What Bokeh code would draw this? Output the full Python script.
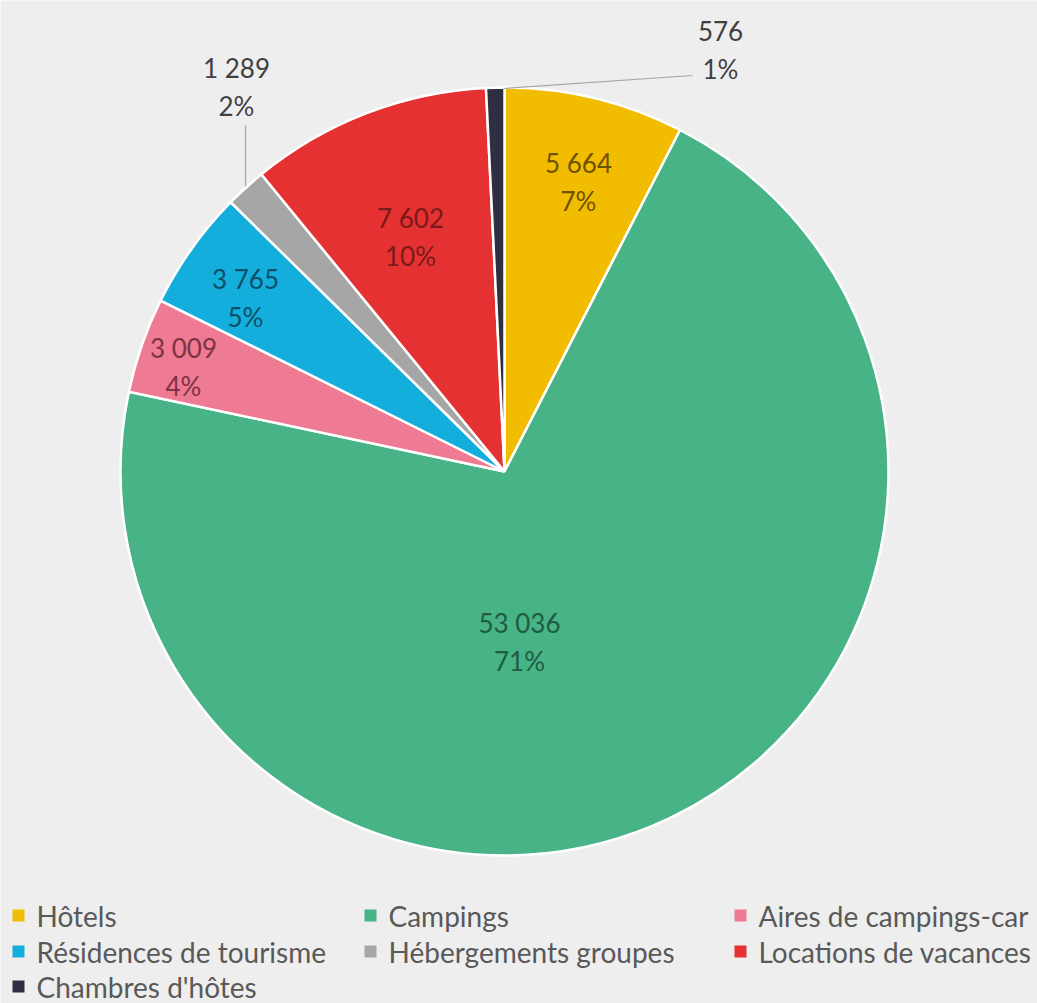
import numpy as np
from bokeh.plotting import figure
from bokeh.models import Range1d, ColumnDataSource
from bokeh.core.properties import value
from bokeh.embed import file_html
from bokeh.resources import INLINE

# ---- data ----
categories = ["Hôtels", "Campings", "Aires de campings-car", "Résidences de tourisme",
              "Hébergements groupes", "Locations de vacances", "Chambres d'hôtes"]
counts = [5664, 53036, 3009, 3765, 1289, 7602, 576]
pct_labels = ["7%", "71%", "4%", "5%", "2%", "10%", "1%"]
colors = ["#f2bd00", "#48b387", "#ef7a93", "#14aedd", "#a6a6a6", "#e53131", "#2e2f40"]
label_colors = ["#6e5200", "#1d5c40", "#7d3344", "#0b4f68", "#404040", "#7a1a1a", "#404040"]

# ---- layout (pixel coordinates of the page; y converted) ----
W, H = 1037, 1003
def Y(py):
    return H - py

cx, cy, R = 504, Y(471), 384
FONT = "Lato"
FS = "26px"
LEG_FS = "28px"

p = figure(width=W, height=H, output_backend="svg", toolbar_location=None,
           x_range=Range1d(0, W), y_range=Range1d(0, H),
           min_border=0, background_fill_color="#eeeeee", border_fill_color="#eeeeee")
p.axis.visible = False
p.grid.visible = False
p.outline_line_color = None

vals = np.array(counts, dtype=float)
total = vals.sum()
cum = np.concatenate([[0], np.cumsum(vals)])
start = np.pi / 2 - 2 * np.pi * cum[:-1] / total
end = np.pi / 2 - 2 * np.pi * cum[1:] / total
fmt = [f"{c:,}".replace(",", " ") for c in counts]

src = ColumnDataSource(dict(start=start, end=end, color=colors))
p.wedge(x=cx, y=cy, radius=R, start_angle="start", end_angle="end", direction="clock",
        fill_color="color", line_color="white", line_width=2.5, source=src)

# label anchor positions (pixel) for each slice: centre of the value line
label_pos = [(578, 162), (519, 622), (183, 347), (245, 278), (236, 67), (410, 217), (720, 30)]
line_gap = 38
lx = [q[0] for q in label_pos]
ly1 = [Y(q[1]) for q in label_pos]
ly2 = [Y(q[1] + line_gap) for q in label_pos]
lsrc = ColumnDataSource(dict(x=lx, y1=ly1, y2=ly2, t1=fmt, t2=pct_labels, c=label_colors))
p.text(x="x", y="y1", text="t1", text_color="c", text_font=value(FONT), text_font_size=FS,
       text_align="center", text_baseline="middle", source=lsrc)
p.text(x="x", y="y2", text="t2", text_color="c", text_font=value(FONT), text_font_size=FS,
       text_align="center", text_baseline="middle", source=lsrc)

# leader lines for outside labels
p.line(x=[245, 245], y=[Y(125), Y(186)], line_color="#a6a6a6", line_width=1.2)
p.line(x=[503, 692], y=[Y(88), Y(75)], line_color="#a6a6a6", line_width=1.2)

# legend (3 columns)
col_x = [18, 370, 740]
row_y = [915, 951, 986]
mx = [col_x[i % 3] for i in range(len(categories))]
my = [Y(row_y[i // 3]) for i in range(len(categories))]
legsrc = ColumnDataSource(dict(x=mx, tx=[m + 18 for m in mx], y=my, t=categories, c=colors))
p.scatter(x="x", y="y", marker="square", size=12, fill_color="c", line_color=None, source=legsrc)
p.text(x="tx", y="y", text="t", text_color="#595959", text_font=value(FONT), text_font_size=LEG_FS,
       text_align="left", text_baseline="middle", source=legsrc)

open("out.html", "w").write(file_html(p, INLINE))
